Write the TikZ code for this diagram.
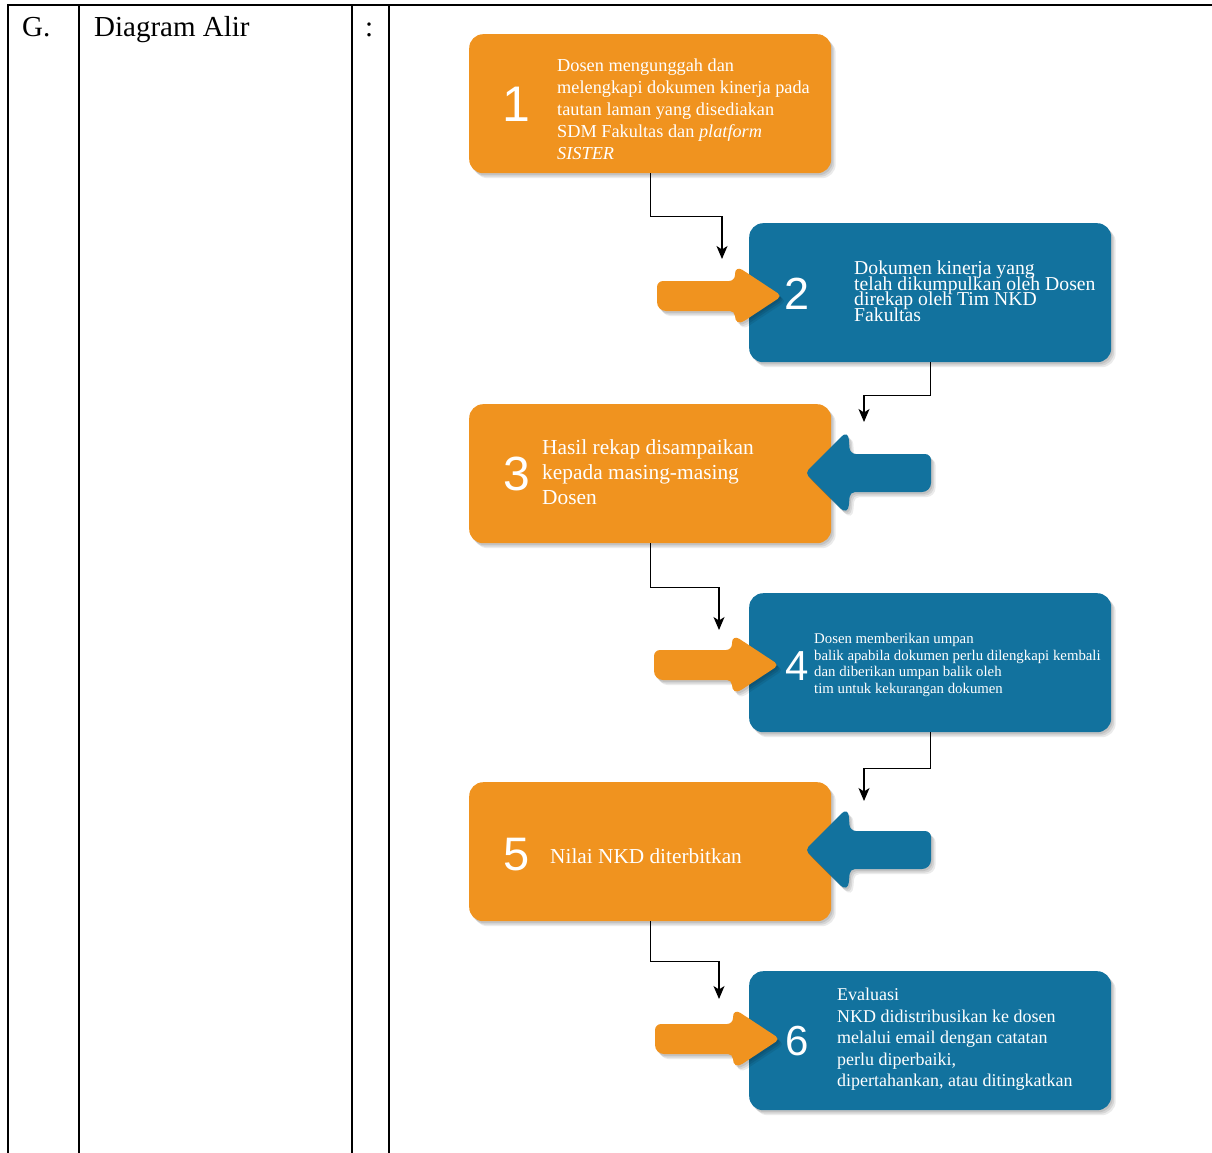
\documentclass[tikz,border=0pt]{standalone}
\usepackage{fontspec}
\setmainfont{Liberation Serif}
\newfontfamily\numfont{Liberation Sans}
\usetikzlibrary{shadows,arrows.meta}
\definecolor{orng}{HTML}{F0931F}
\definecolor{blu}{HTML}{12729E}
\newcommand\tightlns{\lineskiplimit=-100pt\relax\lineskip=0pt\relax}
\begin{document}
\begin{tikzpicture}[x=1pt,y=-1pt,
  shd/.style={drop shadow={shadow xshift=1.5pt,shadow yshift=-2pt,opacity=0.09,fill=black},
              drop shadow={shadow xshift=3pt,shadow yshift=-3.5pt,opacity=0.09,fill=black},
              drop shadow={shadow xshift=4.5pt,shadow yshift=-5pt,opacity=0.08,fill=black}},
  card/.style={rounded corners=14pt, minimum width=362pt, minimum height=139pt, anchor=north west, inner sep=0pt, shd},
  ocard/.style={card, fill=orng},
  bcard/.style={card, fill=blu},
  num/.style={font=\numfont\fontsize{#1}{#1}\selectfont, text=white, anchor=base, inner sep=0pt},
  txt/.style={text=white, align=left, anchor=north west, inner sep=0pt},
  conn/.style={line width=1.4pt, -{Stealth[length=13pt,width=11pt,inset=3.5pt]}},
  rule/.style={line width=1.8pt},
  hd/.style={font=\fontsize{29}{29}\selectfont, anchor=base west, inner sep=0pt},
  rblk/.pic={\fill[#1, shd] (-125,0) [rounded corners=6pt] -- (-125,-15) [rounded corners=6pt] -- (-47,-15)
     [rounded corners=9pt] -- (-47,-31) [rounded corners=5pt] -- (0,0) [rounded corners=11pt] -- (-47,31)
     [rounded corners=5pt] -- (-47,15) [rounded corners=9pt] -- (-125,15) [rounded corners=6pt] -- cycle;},
  lblk/.pic={\fill[#1, shd] (126,0) [rounded corners=6pt] -- (126,-19) [rounded corners=6pt] -- (45,-19)
     [rounded corners=9pt] -- (43,-43) [rounded corners=5pt] -- (0,0) [rounded corners=11pt] -- (43,43)
     [rounded corners=5pt] -- (45,19) [rounded corners=9pt] -- (126,19) [rounded corners=6pt] -- cycle;}
]
\useasboundingbox (0,0) rectangle (1212,1153);
% table
\draw[rule] (8,1153) -- (8,5) -- (1212,5);
\draw[rule] (79,5) -- (79,1153);
\draw[rule] (352,5) -- (352,1153);
\draw[rule] (389,5) -- (389,1153);
\node[hd] (g) at (22,37) {G.};
\node[hd] (da) at (94,37) {Diagram Alir};
\node[hd] (col) at (365,37) {:};

% cards
\node[ocard] (b1) at (469,34) {};
\node[bcard] (b2) at (749,223) {};
\node[ocard] (b3) at (469,404) {};
\node[bcard] (b4) at (749,593) {};
\node[ocard] (b5) at (469,782) {};
\node[bcard] (b6) at (749,971) {};

% connectors
\coordinate (e1) at (722,259);
\coordinate (e2) at (864,422);
\coordinate (e3) at (719,630);
\coordinate (e4) at (864,801);
\coordinate (e5) at (719,999);
\draw[conn] (b1.south) -- ++(0,43) -| (e1);
\draw[conn] (b2.south) -- ++(0,33) -| (e2);
\draw[conn] (b3.south) -- ++(0,44) -| (e3);
\draw[conn] (b4.south) -- ++(0,36) -| (e4);
\draw[conn] (b5.south) -- ++(0,40) -| (e5);

% block arrows
\pic at (782,296) {rblk=orng};
\pic at (805,473) {lblk=blu};
\pic at (779,665) {rblk=orng};
\pic at (805,850) {lblk=blu};
\pic at (780,1039) {rblk=orng};

% numbers
\node[num=50] (n1) at (516,122) {1};
\node[num=45] (n2) at (797,309) {2};
\node[num=48] (n3) at (517,490) {3};
\node[num=42] (n4) at (797,680) {4};
\node[num=47] (n5) at (517,870) {5};
\node[num=42] (n6) at (797,1055) {6};

% texts
\node[txt, font=\fontsize{18.3}{21.8}\selectfont] (t1) at (557,59)
  {Dosen mengunggah dan\\melengkapi dokumen kinerja pada\\tautan laman yang disediakan\\SDM Fakultas dan \textit{platform}\\\textit{SISTER}};
\node[txt, font=\fontsize{19.7}{15.5}\selectfont\tightlns] (t2) at (854,261)
  {Dokumen kinerja yang\\telah dikumpulkan oleh Dosen\\direkap oleh Tim NKD\\Fakultas};
\node[txt, font=\fontsize{21.4}{25}\selectfont] (t3) at (542,439)
  {Hasil rekap disampaikan\\kepada masing-masing\\Dosen};
\node[txt, font=\fontsize{14.8}{16.7}\selectfont] (t4) at (814,633)
  {Dosen memberikan umpan\\balik apabila dokumen perlu dilengkapi kembali\\dan diberikan umpan balik oleh\\tim untuk kekurangan dokumen};
\node[text=white, anchor=base west, inner sep=0pt, font=\fontsize{21.3}{25}\selectfont] (t5) at (550,863)
  {Nilai NKD diterbitkan};
\node[txt, font=\fontsize{18}{21.5}\selectfont] (t6) at (837,988)
  {Evaluasi\\NKD didistribusikan ke dosen\\melalui email dengan catatan\\perlu diperbaiki,\\dipertahankan, atau ditingkatkan};
\end{tikzpicture}
\end{document}
